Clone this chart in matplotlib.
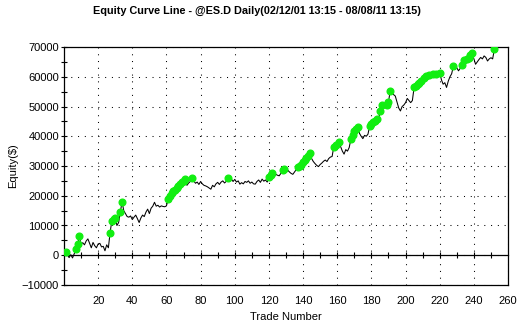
#!/usr/bin/env python3
"""Equity curve line chart with new-high markers."""

import matplotlib
matplotlib.use("Agg")
import matplotlib.pyplot as plt
import numpy as np

plt.rcParams["font.family"] = ["Liberation Sans", "DejaVu Sans"]

TITLE = "Equity Curve Line - @ES.D Daily(02/12/01 13:15 - 08/08/11 13:15)"

# equity after each trade, in thousands of dollars
equity_k = [
    1.0, 0.3, -0.8, 0.2, -0.9, 0.5, 2.0, 3.7, 6.4, 3.8,
    4.2, 3.5, 4.8, 5.5, 4.0, 2.5, 4.3, 3.2, 2.5, 3.8,
    4.0, 2.8, 3.0, 1.5, 3.5, 2.5, 7.6, 11.5, 12.2, 12.5,
    10.0, 11.0, 14.5, 18.0, 15.0, 14.0, 13.0, 12.8, 13.2, 12.0,
    12.8, 13.5, 12.3, 11.0, 12.5, 13.5, 13.0, 14.5, 15.5, 14.0,
    15.8, 16.5, 17.8, 16.5, 16.8, 16.2, 16.6, 16.4, 16.3, 16.6,
    18.8, 19.8, 20.8, 21.5, 22.0, 22.6, 23.2, 24.0, 24.6, 25.0,
    25.5, 23.5, 24.3, 24.8, 25.9, 25.0, 24.2, 24.6, 23.8, 24.8,
    24.0, 23.5, 23.3, 23.0, 22.6, 22.2, 23.5, 23.0, 24.0, 24.5,
    23.8, 24.6, 25.0, 24.3, 24.8, 26.1, 25.2, 25.6, 24.8, 25.5,
    24.6, 25.0, 23.9, 24.4, 24.0, 24.8, 24.5, 25.0, 24.2, 24.6,
    24.0, 23.9, 24.8, 25.3, 24.5, 25.6, 24.9, 25.3, 24.6, 26.2,
    27.0, 27.6, 26.5, 27.2, 26.9, 26.7, 27.5, 28.6, 29.1, 28.2,
    28.6, 28.0, 27.5, 27.2, 28.0, 28.8, 29.5, 30.0, 30.5, 31.4,
    32.0, 32.8, 33.5, 34.3, 32.5, 31.5, 30.8, 30.2, 29.8, 30.5,
    31.0, 31.6, 32.0, 31.5, 32.5, 33.0, 33.2, 36.5, 37.0, 36.0,
    37.9, 36.5, 35.0, 34.0, 35.5, 35.0, 36.2, 39.0, 40.5, 41.8,
    42.5, 43.1, 41.0, 40.0, 39.2, 40.3, 40.0, 40.7, 43.5, 44.2,
    44.8, 45.2, 45.7, 44.5, 48.5, 50.5, 50.2, 49.8, 50.6, 51.5,
    55.2, 54.5, 54.0, 53.5, 51.5, 49.5, 48.5, 50.0, 50.5, 51.3,
    52.7, 52.0, 51.3, 52.0, 56.4, 57.0, 57.6, 58.0, 58.6, 58.2,
    59.5, 60.3, 60.0, 60.6, 60.2, 60.8, 60.5, 60.9, 60.6, 61.4,
    59.0, 57.5, 58.0, 56.4, 58.5, 60.0, 61.0, 63.6, 62.5, 63.0,
    62.0, 62.8, 63.9, 65.6, 65.0, 65.9, 66.4, 67.2, 67.9, 66.0,
    64.2, 65.0, 65.8, 66.5, 66.0, 67.0, 66.5, 65.3, 66.0, 66.4,
    66.0, 69.2,
]

X_TICKS = list(range(20, 261, 20))
Y_TICKS = list(range(-10000, 70001, 10000))


def main():
    equity = np.array(equity_k) * 1000
    trades = np.arange(1, len(equity) + 1)
    prev_max = np.concatenate([[-np.inf], np.maximum.accumulate(equity)[:-1]])
    new_high = equity > prev_max

    fig = plt.figure(figsize=(5.24, 3.28), dpi=100)
    ax = fig.add_axes([0.1221, 0.1311, 0.8474, 0.7256])

    ax.plot(trades, equity, color="black", lw=0.75, zorder=3)
    ax.plot(trades[new_high], equity[new_high], "o", color="#11ee11",
            ms=4.8, mec="#11ee11", zorder=4)

    ax.set_xlim(0, 260)
    ax.set_ylim(-10000, 70000)
    ax.set_xticks(X_TICKS)
    ax.set_yticks(Y_TICKS)
    ax.set_yticks(range(-5000, 70000, 10000), minor=True)
    ax.grid(True, color="black", lw=0.75, linestyle=(0, (1, 5.5)))
    ax.tick_params(axis="x", length=0, pad=8, labelsize=8)
    ax.tick_params(axis="y", which="both", direction="inout", length=5,
                   width=0.8, pad=1, labelsize=8)
    for sp in ax.spines.values():
        sp.set_linewidth(0.9)

    # zero line carrying the trade ticks
    zero = ax.secondary_xaxis(10000 / 80000)
    zero.set_xticks(range(10, 260, 10))
    zero.tick_params(direction="inout", length=5, width=0.8, labelbottom=False)
    zero.spines["bottom"].set_linewidth(0.9)

    ax.set_xlabel("Trade Number", fontsize=8, labelpad=4)
    ax.set_ylabel("Equity($)", fontsize=8, labelpad=3)
    fig.text(0.4905, 0.966, TITLE, ha="center", va="center",
             fontsize=7.8, fontweight="bold")

    fig.savefig("out.png", dpi=100)
    plt.close(fig)


if __name__ == "__main__":
    main()
